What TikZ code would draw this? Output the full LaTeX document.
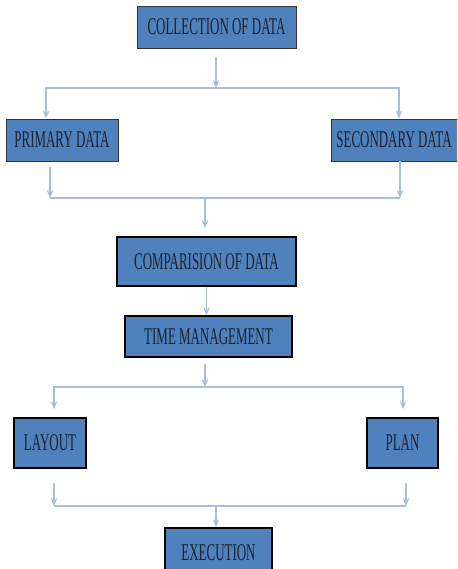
\documentclass[tikz,border=0pt]{standalone}
\usepackage{fontspec}
\usepackage{tikz}
\usetikzlibrary{arrows}
\newfontfamily\boxfont[FakeStretch=0.54]{Liberation Serif}
\definecolor{boxblue}{HTML}{4F81BD}
\definecolor{linkblue}{HTML}{A7BFDE}
\definecolor{boxtext}{HTML}{1B2230}

\begin{document}
\begin{tikzpicture}[x=1pt,y=-1pt,>=angle 45,
  box/.style={rectangle,fill=boxblue,draw=black!80,line width=0.8pt,
    text=boxtext,font=\boxfont\fontsize{24}{26}\selectfont,inner sep=0pt},
  thickbox/.style={box,draw=black,line width=1.8pt},
  link/.style={draw=linkblue,line width=1.2pt}]
  \clip (0,0) rectangle (457,569);

  \node[box,minimum width=159pt,minimum height=42pt] (collect) at (216.5,27) {COLLECTION OF DATA};
  \node[box,minimum width=112pt,minimum height=42pt] (primary) at (62,140) {PRIMARY DATA};
  \node[box,minimum width=132pt,minimum height=42pt] (secondary) at (397,140) {\hspace*{-6pt}SECONDARY DATA};
  \node[thickbox,minimum width=179pt,minimum height=49pt] (compare) at (206.5,261.5) {COMPARISION OF DATA};
  \node[thickbox,minimum width=167pt,minimum height=41pt] (time) at (208.5,336.5) {TIME MANAGEMENT};
  \node[thickbox,minimum width=72pt,minimum height=50pt] (layout) at (50,443) {LAYOUT};
  \node[thickbox,minimum width=71pt,minimum height=50pt] (plan) at (402.5,443) {PLAN};
  \node[thickbox,minimum width=107pt,minimum height=50pt] (exec) at (218.5,553) {EXECUTION};

  % junctions
  \coordinate (split) at (216,88);
  \coordinate (pa) at (50,198);
  \coordinate (sa) at (400,198);
  \coordinate (merge) at (205,198);
  \coordinate (split2) at (205,387);
  \coordinate (la) at (54,506);
  \coordinate (pla) at (406,506);
  \coordinate (merge2) at (216,506);

  % collection -> primary / secondary
  \draw[link,->,shorten <=9pt] (collect.south -| split) -- (split);
  \draw[link,->] (split) -| ([xshift=-16pt]primary.north);
  \draw[link,->] (split) -| ([xshift=2pt]secondary.north);

  % primary / secondary -> comparision
  \draw[link,->,shorten <=6pt] (primary.south -| pa) -- (pa);
  \draw[link,->] (secondary.south -| sa) -- (sa);
  \draw[link] (pa) -- (sa);
  \draw[link,->,shorten >=8pt] (merge) -- (merge |- compare.north);

  \draw[link,->] (compare.south) -- (compare.south |- time.north);

  % time -> layout / plan
  \draw[link,->,shorten <=6pt] (time.south -| split2) -- (split2);
  \draw[link,->,shorten >=8pt] (split2) -| ([xshift=4pt]layout.north);
  \draw[link,->,shorten >=8pt] (split2) -| ([xshift=0.5pt]plan.north);

  % layout / plan -> execution
  \draw[link,->,shorten <=14pt] (layout.south -| la) -- (la);
  \draw[link,->,shorten <=14pt] (plan.south -| pla) -- (pla);
  \draw[link] (la) -- (pla);
  \draw[link,->] (merge2) -- (merge2 |- exec.north);
\end{tikzpicture}
\end{document}
